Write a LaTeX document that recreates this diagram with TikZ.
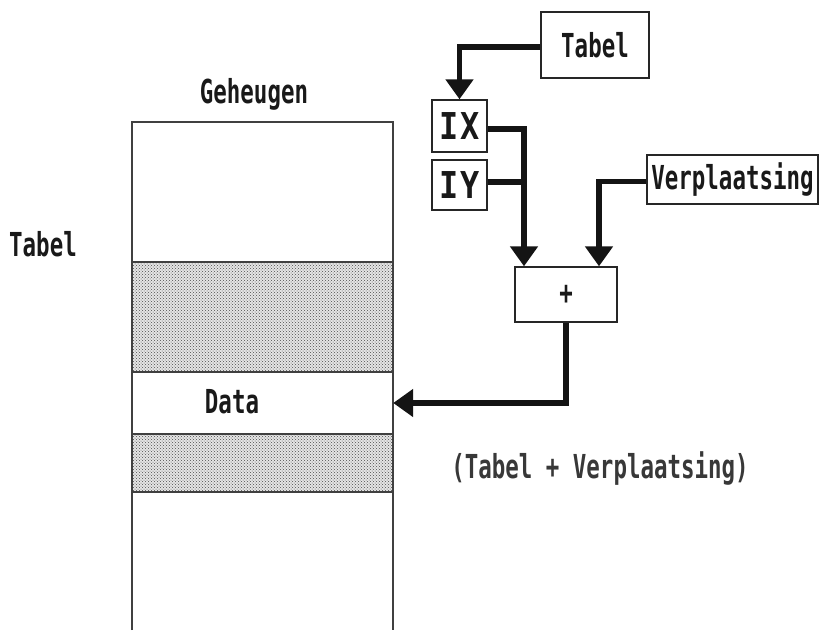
\documentclass[tikz,border=0pt]{standalone}
\usepackage{fontspec}
\usetikzlibrary{arrows.meta,patterns,calc}
\newfontfamily\pixfont[FakeStretch=0.68]{DejaVu Sans Mono}
\newfontfamily\regfont[FakeStretch=0.86]{DejaVu Sans Mono}
\begin{document}
\begin{tikzpicture}[x=1pt,y=-1pt,
  txt/.style={font=\pixfont\bfseries\fontsize{33}{36}\selectfont, inner sep=0pt, text=black!90},
  captxt/.style={font=\pixfont\bfseries\fontsize{33}{36}\selectfont, inner sep=0pt, text=black!78},
  regtxt/.style={font=\regfont\bfseries\fontsize{37}{40}\selectfont, inner sep=0pt, text=black!90},
  box/.style={draw=black!85, line width=1.4pt, inner sep=0pt},
  conn/.style={draw=black!92, line width=5.5pt, line join=miter},
  arr/.style={conn, -{Triangle[width=27pt,length=20pt]}},
  memline/.style={draw=black!75, line width=1.5pt},
  shade/.style={pattern=crosshatch dots, pattern color=black!70}
]
\useasboundingbox (0,0) rectangle (824,630);
\fill[white] (0,0) rectangle (824,630);

% memory column
\fill[black!10] (132,262) rectangle (393,372);
\fill[shade] (132,262) rectangle (393,372);
\fill[black!10] (132,434) rectangle (393,492);
\fill[shade] (132,434) rectangle (393,492);
\draw[memline] (132,630) -- (132,122) -- (393,122) -- (393,630);
\draw[memline] (132,262) -- (393,262);
\draw[memline] (132,372) -- (393,372);
\draw[memline] (132,434) -- (393,434);
\draw[memline] (132,492) -- (393,492);
\node[inner sep=0pt, minimum width=261pt, minimum height=62pt] (data) at (262.5,403) {};

% labels
\node[txt, anchor=base] (geh) at (254,103) {Geheugen};
\node[txt, anchor=base] (tabl) at (43,256) {Tabel};
\node[txt, anchor=base] (datal) at (232,413) {Data};
\node[captxt, anchor=base] (cap) at (600,478) {(Tabel + Verplaatsing)};

% boxes
\node[box, txt, minimum width=108pt, minimum height=66pt] (tabel) at (595,45) {Tabel};
\node[box, regtxt, minimum width=55pt, minimum height=52pt] (ix) at (459.5,126) {I\hspace{2pt}X};
\node[box, regtxt, minimum width=55pt, minimum height=50pt] (iy) at (459.5,185) {I\hspace{2pt}Y};
\node[box, txt, minimum width=171pt, minimum height=49pt] (verpl) at (732.5,179.5) {Verplaatsing};
\node[box, txt, minimum width=102pt, minimum height=55pt] (plus) at (566,294.5) {+};

\coordinate (inA) at ([xshift=-42pt]plus.north);
\coordinate (inB) at ([xshift=33pt]plus.north);

% connectors
\draw[arr] ([yshift=-2pt]tabel.west) -| (ix.north);
\draw[arr] ([yshift=-3pt]ix.east) -| (inA);
\draw[conn] ([yshift=3pt]iy.east) -- ([yshift=3pt]iy.east -| inA);
\draw[arr] ([yshift=-2pt]verpl.west) -| (inB);
\draw[arr] (plus.south) |- (data.east);
\end{tikzpicture}
\end{document}
